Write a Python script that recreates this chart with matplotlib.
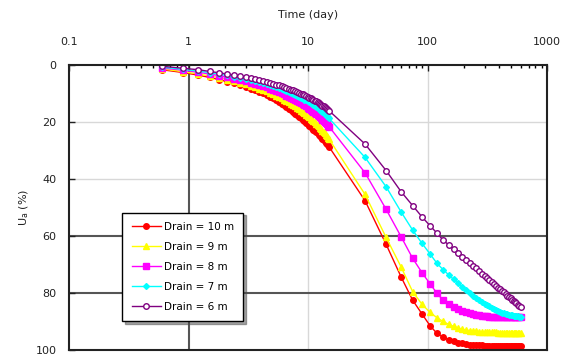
import matplotlib
matplotlib.use("Agg")
import matplotlib.pyplot as plt
from matplotlib.ticker import LogLocator, FixedLocator, NullFormatter

plt.rcParams['font.family'] = ['DejaVu Sans']

# time (day): early steps of 0.3 day up to 15, then every 15 days
time_early = [0.6, 0.9, 1.2, 1.5, 1.8, 2.1, 2.4, 2.7, 3.0, 3.3, 3.6, 3.9, 4.2, 4.5, 4.8,
              5.1, 5.4, 5.7, 6.0, 6.3, 6.6, 6.9, 7.2, 7.5, 7.8, 8.1, 8.4, 8.7, 9.0, 9.3,
              9.6, 9.9, 10.2, 10.5, 10.8, 11.1, 11.4, 11.7, 12.0, 12.3, 12.6, 12.9, 13.2,
              13.5, 13.8, 14.1, 14.4, 14.7, 15.0]
time_late = [30, 45, 60, 75, 90, 105, 120, 135, 150, 165, 180, 195, 210, 225, 240, 255,
             270, 285, 300, 315, 330, 345, 360, 375, 390, 405, 420, 435, 450, 465, 480,
             495, 510, 525, 540, 555, 570, 585, 600]
time = time_early + time_late

drain10 = [1.6, 2.6, 3.5, 4.3, 5.1, 5.8, 6.4, 7.0, 7.6, 8.2, 8.8, 9.4, 9.9, 10.5, 11.1,
           11.7, 12.3, 12.9, 13.5, 14.1, 14.7, 15.3, 15.9, 16.4, 17.0, 17.5, 18.1, 18.6,
           19.2, 19.7, 20.3, 20.8, 21.3, 21.8, 22.2, 22.7, 23.1, 23.6, 24.0, 24.5, 24.9,
           25.4, 25.9, 26.4, 26.8, 27.3, 27.8, 28.2, 28.7,
           47.6, 62.9, 74.3, 82.5, 87.4, 91.5, 94.2, 95.5, 96.4, 97.0, 97.4, 97.7, 97.9,
           98.1, 98.2, 98.3, 98.4, 98.4, 98.5, 98.5, 98.5, 98.5, 98.5, 98.5, 98.5, 98.5,
           98.5, 98.5, 98.5, 98.5, 98.5, 98.5, 98.5, 98.5, 98.5, 98.5, 98.5, 98.5, 98.5]
drain9 = [1.3, 2.3, 3.1, 3.8, 4.4, 5.1, 5.6, 6.2, 6.7, 7.2, 7.7, 8.2, 8.7, 9.2, 9.7,
          10.2, 10.7, 11.2, 11.7, 12.1, 12.6, 13.1, 13.6, 14.1, 14.5, 15.0, 15.5, 16.0,
          16.4, 16.9, 17.4, 17.8, 18.3, 18.8, 19.2, 19.7, 20.1, 20.6, 21.0, 21.5, 22.0,
          22.5, 23.0, 23.5, 24.0, 24.5, 25.0, 25.5, 26.0,
          45.4, 60.5, 70.8, 79.5, 84.0, 86.8, 88.7, 90.0, 91.0, 91.7, 92.3, 92.7, 93.0,
          93.2, 93.4, 93.5, 93.6, 93.7, 93.7, 93.8, 93.8, 93.8, 93.8, 93.8, 93.9, 93.9,
          93.9, 93.9, 93.9, 93.9, 93.9, 93.9, 93.9, 93.9, 93.9, 93.9, 93.9, 93.9, 93.9]
drain8 = [1.0, 1.8, 2.5, 3.1, 3.7, 4.3, 4.7, 5.2, 5.7, 6.1, 6.5, 7.0, 7.4, 7.8, 8.2,
          8.6, 9.0, 9.4, 9.9, 10.3, 10.7, 11.1, 11.5, 11.8, 12.2, 12.6, 13.0, 13.4,
          13.7, 14.1, 14.5, 14.9, 15.3, 15.6, 16.0, 16.4, 16.8, 17.1, 17.5, 17.9, 18.3,
          18.7, 19.1, 19.6, 20.0, 20.4, 20.8, 21.2, 21.6,
          37.8, 50.6, 60.2, 67.8, 72.9, 76.8, 80.1, 82.5, 83.8, 84.9, 85.7, 86.3, 86.8,
          87.2, 87.5, 87.7, 87.9, 88.0, 88.1, 88.2, 88.3, 88.3, 88.4, 88.4, 88.4, 88.4,
          88.4, 88.5, 88.5, 88.5, 88.5, 88.5, 88.5, 88.5, 88.5, 88.5, 88.5, 88.5, 88.5]
drain7 = [0.7, 1.5, 2.1, 2.6, 3.1, 3.6, 4.1, 4.5, 4.9, 5.3, 5.6, 6.0, 6.3, 6.7, 7.1,
          7.4, 7.8, 8.1, 8.5, 8.8, 9.1, 9.5, 9.8, 10.1, 10.5, 10.8, 11.1, 11.4, 11.7,
          12.1, 12.4, 12.7, 13.0, 13.4, 13.7, 14.0, 14.3, 14.7, 15.0, 15.4, 15.7, 16.1,
          16.5, 16.9, 17.2, 17.6, 18.0, 18.3, 18.7,
          32.4, 42.7, 51.5, 57.9, 62.6, 66.3, 69.6, 71.8, 73.6, 75.2, 76.6, 77.8, 79.0,
          80.0, 80.9, 81.7, 82.4, 83.1, 83.7, 84.2, 84.7, 85.2, 85.6, 86.0, 86.3, 86.6,
          86.9, 87.1, 87.3, 87.5, 87.7, 87.8, 87.9, 88.0, 88.1, 88.2, 88.2, 88.3, 88.3]
drain6 = [0.4, 1.1, 1.6, 2.2, 2.7, 3.1, 3.5, 3.9, 4.3, 4.6, 4.9, 5.2, 5.6, 5.9, 6.2,
          6.5, 6.8, 7.1, 7.4, 7.7, 8.0, 8.3, 8.6, 8.9, 9.1, 9.4, 9.7, 10.0, 10.3, 10.5,
          10.8, 11.1, 11.4, 11.7, 11.9, 12.2, 12.5, 12.7, 13.0, 13.3, 13.6, 13.9, 14.2,
          14.5, 14.8, 15.1, 15.4, 15.7, 16.0,
          27.7, 37.0, 44.4, 49.3, 53.3, 56.4, 59.0, 61.4, 63.1, 64.6, 65.9, 67.2, 68.3,
          69.4, 70.5, 71.4, 72.3, 73.2, 74.0, 74.7, 75.5, 76.2, 76.8, 77.5, 78.1, 78.7,
          79.2, 79.8, 80.3, 80.9, 81.3, 81.8, 82.3, 82.8, 83.2, 83.6, 84.1, 84.5, 84.9]

fig = plt.figure(figsize=(5.71, 3.56), dpi=100)
ax = fig.add_axes([0.121, 0.017, 0.837, 0.800])

ax.plot(time, drain10, color="#FF0000", marker="o", ms=4, lw=1, label="Drain = 10 m")
ax.plot(time, drain9, color="#FFFF00", marker="^", ms=4.5, lw=1, label="Drain = 9 m")
ax.plot(time, drain8, color="#FF00FF", marker="s", ms=4, lw=1, label="Drain = 8 m")
ax.plot(time, drain7, color="#00FFFF", marker="D", ms=3, lw=1, label="Drain = 7 m")
ax.plot(time, drain6, color="#800080", marker="o", ms=4, lw=1, mfc="white", mew=1,
        label="Drain = 6 m")

ax.set_xscale("log")
ax.set_xlim(0.1, 1000)
ax.set_ylim(100, 0)

ax.xaxis.tick_top()
ax.xaxis.set_label_position("top")
ax.xaxis.set_major_locator(FixedLocator([0.1, 1, 10, 100, 1000]))
ax.xaxis.set_major_formatter(plt.FuncFormatter(lambda v, p: "%g" % v))
ax.xaxis.set_minor_locator(LogLocator(base=10, subs=range(2, 10)))
ax.xaxis.set_minor_formatter(NullFormatter())
ax.set_yticks([0, 20, 40, 60, 80, 100])

ax.tick_params(axis="x", which="major", direction="in", length=4, width=1, labelsize=8,
               pad=13, colors="#222222")
ax.tick_params(axis="x", which="minor", direction="in", length=2.5, width=1)
ax.tick_params(axis="y", direction="in", length=4, width=1, labelsize=8, pad=9,
               colors="#222222")

ax.set_xlabel("Time (day)", fontsize=8, labelpad=14, color="#222222")
ax.set_ylabel(r"U$_\mathregular{a}$ (%)", fontsize=8, labelpad=3, color="#222222")

# grid: light lines, with darker ones at 1 day and 60 / 80 %
for v in [10, 100]:
    ax.axvline(v, color="#d8d8d8", lw=1, zorder=0)
for v in [20, 40]:
    ax.axhline(v, color="#d8d8d8", lw=1, zorder=0)
ax.axvline(1, color="#555555", lw=1.5, zorder=0)
for v in [60, 80]:
    ax.axhline(v, color="#555555", lw=1.5, zorder=0)

for s in ax.spines.values():
    s.set_linewidth(1.5)
    s.set_color("#222222")

leg = ax.legend(loc="lower left", bbox_to_anchor=(0.111, 0.102), borderaxespad=0,
                fontsize=7.5, frameon=True, fancybox=False, shadow=True,
                edgecolor="black", framealpha=1, handlelength=2.8, labelspacing=0.95,
                borderpad=0.9, handletextpad=0.3)
leg.get_frame().set_linewidth(1)

fig.savefig("out.png", dpi=100)
